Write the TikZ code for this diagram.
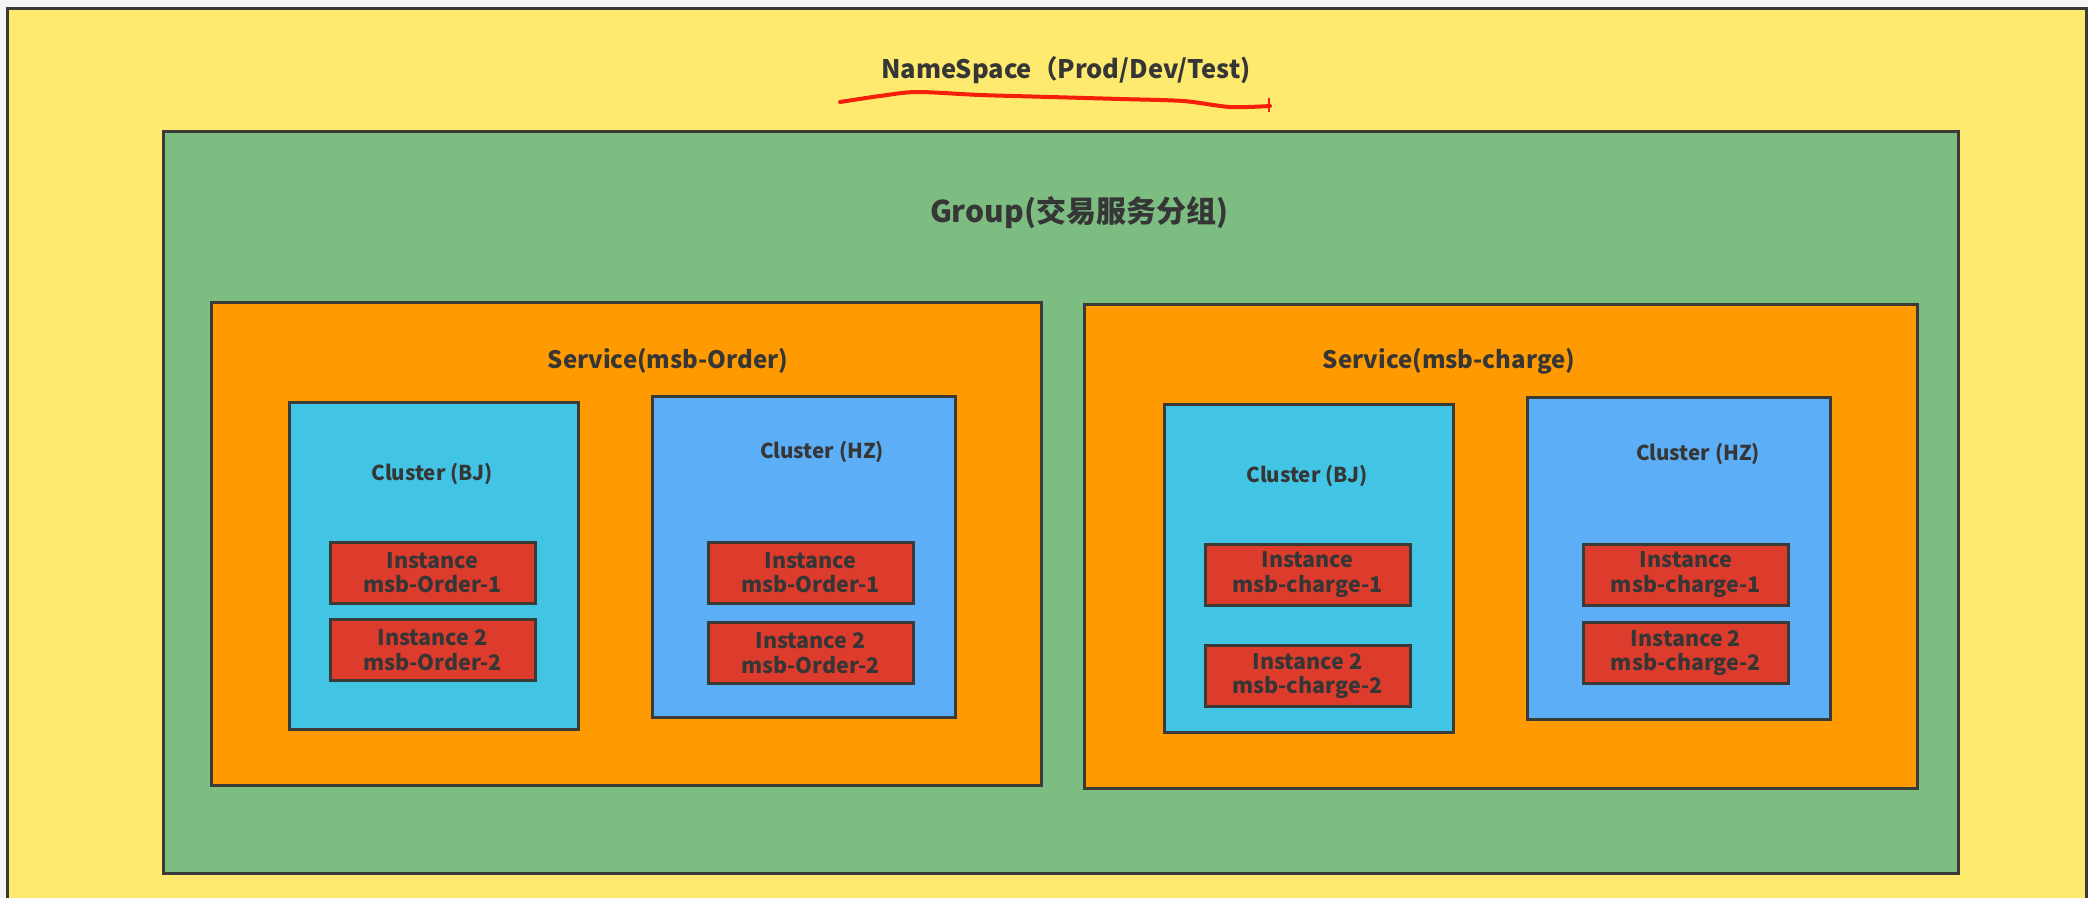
\documentclass[tikz,border=0pt]{standalone}
\usepackage{fontspec}
\setmainfont{Noto Sans CJK SC}
\definecolor{strip}{HTML}{F4F4F6}
\definecolor{nsyellow}{HTML}{FFEA70}
\definecolor{grpgreen}{HTML}{7DBD82}
\definecolor{svcorange}{HTML}{FF9A00}
\definecolor{bjcyan}{HTML}{42C4E4}
\definecolor{hzblue}{HTML}{5CAFF7}
\definecolor{instred}{HTML}{DD3C2C}
\definecolor{boxline}{HTML}{3A3A36}
\definecolor{txt}{HTML}{363636}
\definecolor{pen}{HTML}{F41E0A}
\newcommand{\Fsize}[1]{\fontsize{#1}{1.15\dimexpr#1pt\relax}\selectfont\bfseries}
\tikzset{
    box/.style={draw=boxline, line width=3pt},
    lbl/.style={inner sep=0pt, text=txt},
    inst/.style={draw=boxline, line width=3pt, fill=instred, inner sep=0pt,
        minimum width=205pt, minimum height=61pt, align=center, text=txt,
        font=\fontsize{21.5}{24.4}\selectfont\bfseries}
}

\begin{document}
\begin{tikzpicture}[x=1pt,y=-1pt]
    \clip (0,0) rectangle (2088,897);
    \fill[strip] (0,0) rectangle (2088,897);
    \path[box,fill=nsyellow] (7,8) rectangle (2086,910);
    \node[lbl,font=\Fsize{25.5}] (ns) at (1066,70) {NameSpace（Prod/Dev/Test)};
    \path[box,fill=grpgreen] (163,131) rectangle (1958,873);
    \node[lbl,font=\Fsize{30}] (grp) at (1079,213) {Group(交易服务分组)};
    % red pen mark under the namespace
    \draw[pen, line width=4pt, line cap=round, smooth]
        plot coordinates {(840,102) (880,96) (917,92) (980,95) (1050,97)
                          (1120,99) (1183,101) (1230,107) (1270,106)};
    \draw[pen, line width=2.5pt] (1269,98) -- (1269,112);
    % service msb-Order
    \path[box,fill=svcorange] (211,302) rectangle (1041,785);
    \node[lbl,font=\Fsize{24}] (svcA) at (668,361) {Service(msb-Order)};
    \path[box,fill=bjcyan] (289,402) rectangle (578,729);
    \node[lbl,font=\Fsize{20.5}] (bjA) at (432,474) {Cluster (BJ)};
    \path[box,fill=hzblue] (652,396) rectangle (955,717);
    \node[lbl,font=\Fsize{20.5}] (hzA) at (822,452) {Cluster (HZ)};
    \node[inst] (bjA1) at (432.5,572.5) {Instance\\msb-Order-1};
    \node[inst] (bjA2) at (432.5,650) {Instance 2\\msb-Order-2};
    \node[inst] (hzA1) at (810.5,572.5) {Instance\\msb-Order-1};
    \node[inst] (hzA2) at (810.5,653) {Instance 2\\msb-Order-2};
    % service msb-charge
    \path[box,fill=svcorange] (1084,304) rectangle (1917,788);
    \node[lbl,font=\Fsize{24}] (svcB) at (1449,361) {Service(msb-charge)};
    \path[box,fill=bjcyan] (1164,404) rectangle (1453,732);
    \node[lbl,font=\Fsize{20.5}] (bjB) at (1307,476) {Cluster (BJ)};
    \path[box,fill=hzblue] (1527,397) rectangle (1830,719);
    \node[lbl,font=\Fsize{20.5}] (hzB) at (1698,454) {Cluster (HZ)};
    \node[inst] (bjB1) at (1307.5,574.5) {Instance\\msb-charge-1};
    \node[inst] (bjB2) at (1307.5,676) {Instance 2\\msb-charge-2};
    \node[inst] (hzB1) at (1686,574.5) {Instance\\msb-charge-1};
    \node[inst] (hzB2) at (1686,653) {Instance 2\\msb-charge-2};
\end{tikzpicture}
\end{document}
